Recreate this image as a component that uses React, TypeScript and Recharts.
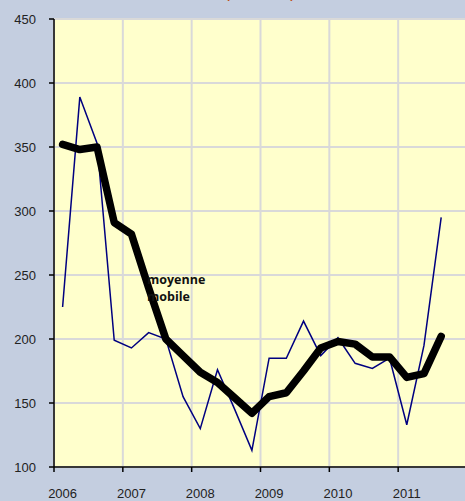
import React from 'react';
import { LineChart, Line, XAxis, YAxis, CartesianGrid } from 'recharts';

const years = ['2006', '2007', '2008', '2009', '2010', '2011'];
const quarters = [
  '2006T1', '2006T2', '2006T3', '2006T4',
  '2007T1', '2007T2', '2007T3', '2007T4',
  '2008T1', '2008T2', '2008T3', '2008T4',
  '2009T1', '2009T2', '2009T3', '2009T4',
  '2010T1', '2010T2', '2010T3', '2010T4',
  '2011T1', '2011T2', '2011T3',
];
const rawValues = [225, 389, 353, 199, 193, 205, 200, 155, 130, 176, 145, 113, 185, 185, 214, 187, 201, 181, 177, 185, 133, 195, 295];
const movingAverage = [352, 348, 350, 291, 282, 240, 200, 187, 174, 166, 154, 142, 155, 158, 175, 193, 198, 196, 186, 186, 170, 173, 202];
const yTicks = [100, 150, 200, 250, 300, 350, 400, 450];
const yearTicks = [0, 4, 8, 12, 16, 20, 24];
const yearLabelTicks = [0.5, 4.5, 8.5, 12.5, 16.5, 20.5];

const data = quarters.map((q, i) => ({ q, x: i + 0.5, raw: rawValues[i], ma: movingAverage[i] }));

export default function App() {
  return (
    <div style={{ position: 'absolute', left: 0, top: 0, width: 465, height: 501, overflow: 'hidden', background: '#c4cee0' }}>
      <div style={{ position: 'absolute', left: 79, top: -19, fontFamily: 'Open Sans', fontSize: 19, lineHeight: '19px', color: '#c0501a', whiteSpace: 'nowrap' }}>
        (Nombre d'entreprises, par trimestre)
      </div>
      <LineChart width={470} height={501} data={data} margin={{ top: 19, right: 3, bottom: 0, left: 0 }}>
        <CartesianGrid xAxisId="grid" fill="#ffffcc" stroke="#d9d9d9" strokeWidth={2} />
        <XAxis
          xAxisId="grid"
          dataKey="x"
          type="number"
          domain={[0, 24]}
          ticks={yearTicks}
          tickFormatter={() => ''}
          tickSize={5}
          height={5}
          axisLine={{ stroke: '#000', strokeWidth: 1.5 }}
          tickLine={{ stroke: '#000', strokeWidth: 1.5 }}
        />
        <XAxis
          xAxisId="lab"
          dataKey="x"
          type="number"
          domain={[0, 24]}
          ticks={yearLabelTicks}
          tickFormatter={(v: number) => years[Math.floor(v / 4)]}
          axisLine={false}
          tickLine={false}
          height={29}
          tickMargin={11}
          tick={{ fill: '#222', fontSize: 13, fontFamily: 'Liberation Sans' }}
        />
        <YAxis
          domain={[100, 450]}
          ticks={yTicks}
          width={54}
          tickSize={5}
          tickMargin={13}
          axisLine={{ stroke: '#000', strokeWidth: 1.5 }}
          tickLine={{ stroke: '#000', strokeWidth: 1.5 }}
          tick={{ fill: '#222', fontSize: 13, fontFamily: 'Liberation Sans' }}
          interval={0}
        />
        <Line xAxisId="grid" dataKey="raw" stroke="#000080" strokeWidth={1.5} dot={false} isAnimationActive={false} />
        <Line xAxisId="grid" dataKey="ma" stroke="#000" strokeWidth={7.5} strokeLinecap="round" strokeLinejoin="round" dot={false} isAnimationActive={false} />
      </LineChart>
      <div style={{ position: 'absolute', left: 147, top: 271, fontFamily: 'Open Sans', fontWeight: 'bold', fontSize: 12.5, lineHeight: '17px', color: '#111' }}>
        moyenne<br />mobile
      </div>
    </div>
  );
}
